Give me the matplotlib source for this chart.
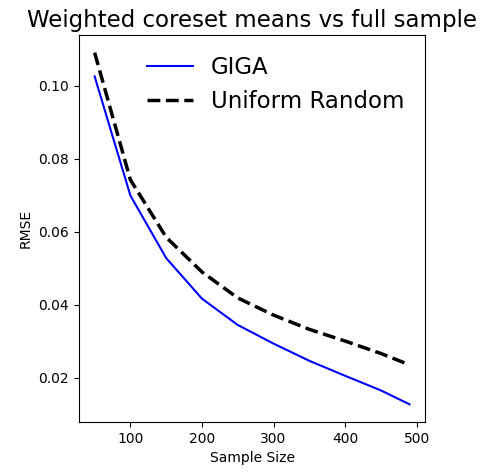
import matplotlib
matplotlib.use('Agg')
import matplotlib.pyplot as plt

sample_sizes = [50, 100, 150, 200, 250, 300, 350, 400, 450, 490]
giga_rmse = [0.1025, 0.0699, 0.0528, 0.0417, 0.0345, 0.0294, 0.0247, 0.0206, 0.0166, 0.0128]
uniform_rmse = [0.109, 0.0742, 0.0585, 0.049, 0.0419, 0.0372, 0.0333, 0.0301, 0.0267, 0.0236]

fig = plt.figure(figsize=(4.81, 4.74), dpi=100)
ax = fig.add_axes([0.164, 0.110, 0.720, 0.816])

ax.plot(sample_sizes, giga_rmse, color='blue', linewidth=1.5, label='GIGA')
ax.plot(sample_sizes, uniform_rmse, color='black', linestyle='--', linewidth=2.5, label='Uniform Random')

ax.set_title('Weighted coreset means vs full sample', fontsize=16.5)
ax.set_xlabel('Sample Size')
ax.set_ylabel('RMSE')
ax.set_xticks([100, 200, 300, 400, 500])
ax.set_yticks([0.02, 0.04, 0.06, 0.08, 0.10])
ax.legend(frameon=False, fontsize=16.5, loc='upper right')

fig.savefig('out.png', dpi=100)
